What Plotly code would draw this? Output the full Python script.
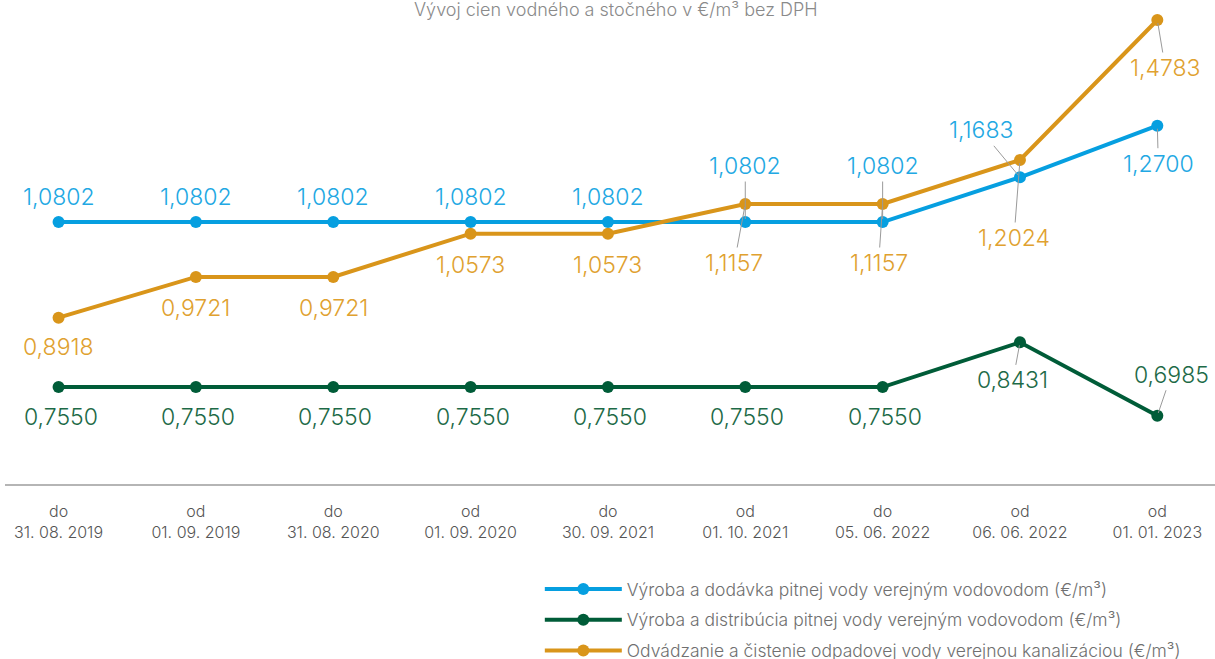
import plotly.graph_objects as go

# Data
periods = ["do<br>31. 08. 2019", "od<br>01. 09. 2019", "do<br>31. 08. 2020",
           "od<br>01. 09. 2020", "do<br>30. 09. 2021", "od<br>01. 10. 2021",
           "do<br>05. 06. 2022", "od<br>06. 06. 2022", "od<br>01. 01. 2023"]
dodavka = [1.0802, 1.0802, 1.0802, 1.0802, 1.0802, 1.0802, 1.0802, 1.1683, 1.2700]
distribucia = [0.7550, 0.7550, 0.7550, 0.7550, 0.7550, 0.7550, 0.7550, 0.8431, 0.6985]
odvadzanie = [0.8918, 0.9721, 0.9721, 1.0573, 1.0573, 1.1157, 1.1157, 1.2024, 1.4783]

names = ["Výroba a dodávka pitnej vody verejným vodovodom (€/m³)",
         "Výroba a distribúcia pitnej vody verejným vodovodom (€/m³)",
         "Odvádzanie a čistenie odpadovej vody verejnou kanalizáciou (€/m³)"]

BLUE = "#069fe0"
GREEN = "#005c38"
ORANGE = "#d9951a"
BLUE_TXT = "#22a8e3"
GREEN_TXT = "#1d6a47"
ORANGE_TXT = "#e0a12f"
FONT = "Inter"

xs = list(range(len(periods)))

fig = go.Figure()
for vals, name, color in [(dodavka, names[0], BLUE),
                          (distribucia, names[1], GREEN),
                          (odvadzanie, names[2], ORANGE)]:
    fig.add_trace(go.Scatter(
        x=xs, y=vals, mode="lines+markers", name=name, legendgroup=name,
        line=dict(color=color, width=4),
        marker=dict(color=color, size=12),
    ))


def fmt(v):
    return f"{v:.4f}".replace(".", ",")


# label offsets (pixels): (dx, dy, leader line)
blue_off = [(0, -25, False)] * 5 + [(0, -56, True), (0, -56, True), (-39, -47, True), (1, 38, True)]
green_off = [(2, 30, False)] * 7 + [(-7, 38, True), (14, -41, True)]
orange_off = [(0, 29, False), (0, 31, False), (0, 31, False), (0, 31, False), (0, 31, False),
              (-11, 59, True), (-4, 59, True), (-6, 78, True), (8, 48, True)]

for vals, offs, color in [(dodavka, blue_off, BLUE_TXT),
                          (distribucia, green_off, GREEN_TXT),
                          (odvadzanie, orange_off, ORANGE_TXT)]:
    for i, v in enumerate(vals):
        dx, dy, leader = offs[i]
        if leader:
            fig.add_annotation(x=i, y=v, text=fmt(v), showarrow=True,
                               ax=dx, ay=dy, arrowhead=0, arrowwidth=1,
                               arrowcolor="#9a9a9a", standoff=3,
                               font=dict(family=FONT, size=23, color=color, weight=300))
        else:
            fig.add_annotation(x=i, y=v, text=fmt(v), showarrow=False,
                               xshift=dx, yshift=-dy,
                               font=dict(family=FONT, size=23, color=color, weight=300))

fig.add_annotation(text="Vývoj cien vodného a stočného v €/m³ bez DPH",
                   xref="paper", yref="paper", x=0.505, y=1, yanchor="middle",
                   yshift=-9, showarrow=False,
                   font=dict(family=FONT, size=18, color="#8a8a8a", weight=300))

fig.update_xaxes(range=[-0.39, 8.42], tickvals=xs, ticktext=periods,
                 showgrid=False, zeroline=False, showline=True,
                 linecolor="#b5b5b5", linewidth=1.5, ticks="",
                 ticklabelstandoff=12,
                 tickfont=dict(family=FONT, size=16, color="#555555", weight=300))
fig.update_yaxes(range=[0.564, 1.5177], visible=False, showgrid=False)

fig.update_layout(
    width=1215, height=659,
    margin=dict(l=5, r=0, t=0, b=175),
    plot_bgcolor="white", paper_bgcolor="white",
    font=dict(family=FONT),
    legend=dict(x=0.442, y=0.1335, xref="paper", yref="container",
                xanchor="left", yanchor="top",
                itemwidth=77, tracegroupgap=5,
                font=dict(family=FONT, size=17.5, color="#707070", weight=300)),
    hovermode="closest",
)

# drop the default page margin so the figure sits at the window corner
fig.write_html("out.html", config={"displayModeBar": False},
               post_script="document.body.style.margin='0';")
